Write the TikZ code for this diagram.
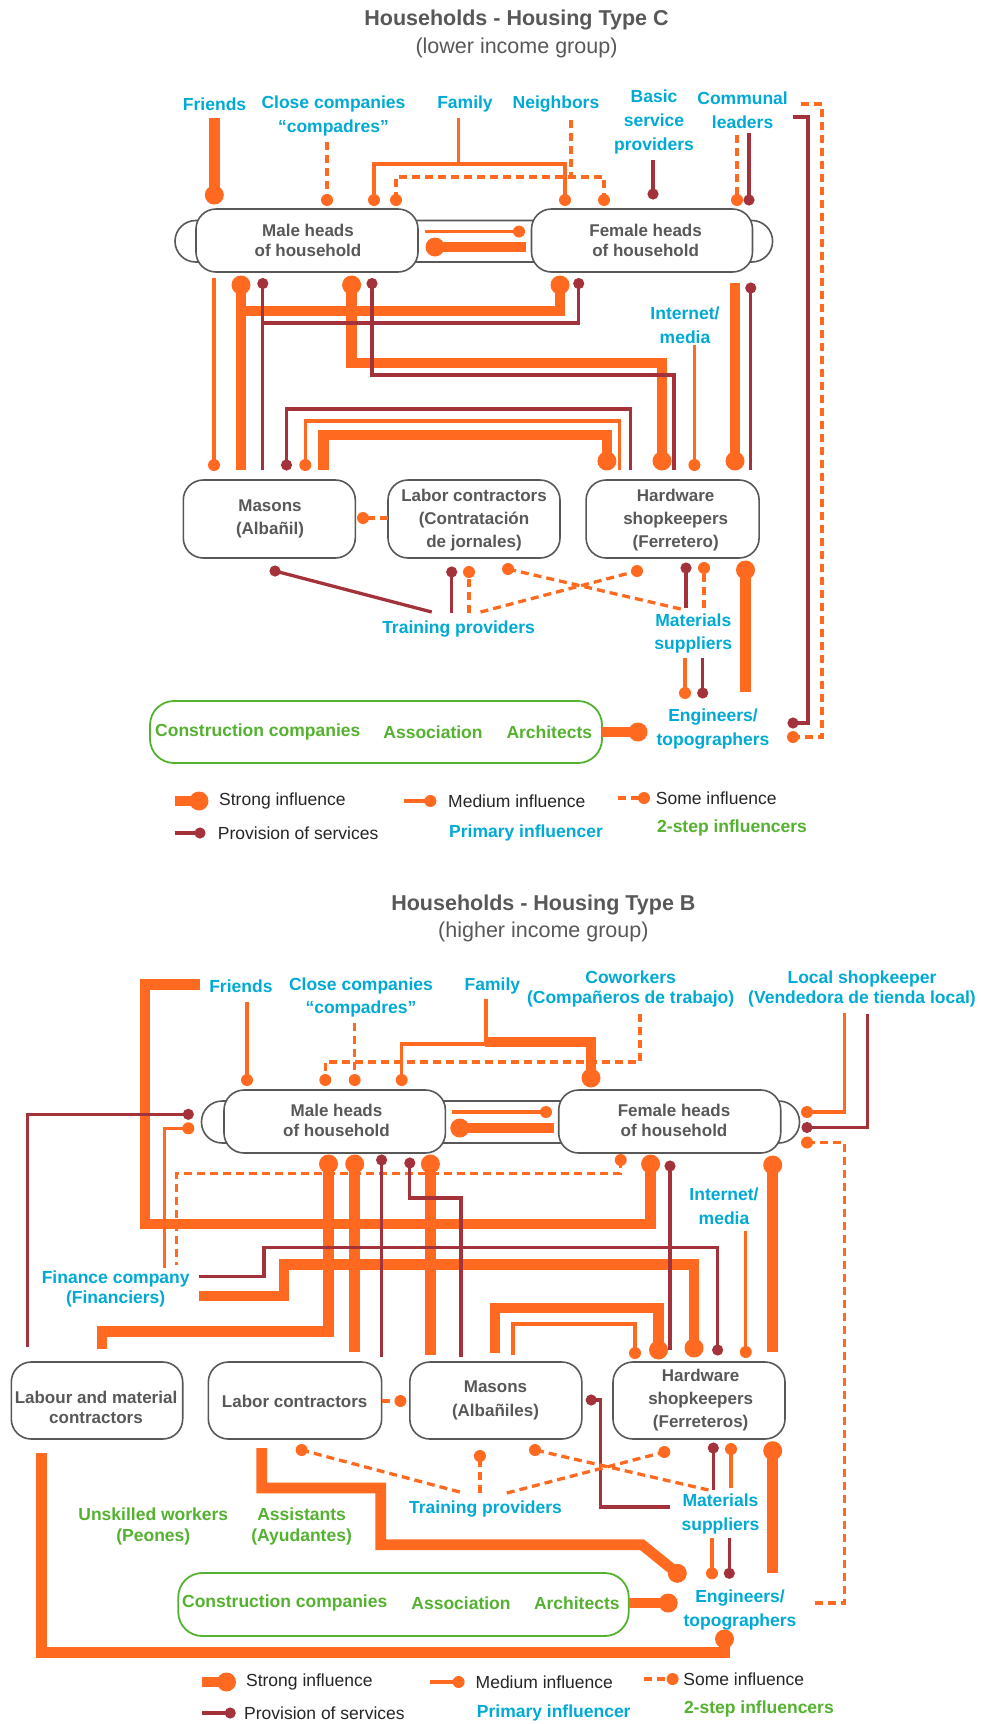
\documentclass[tikz,border=0pt]{standalone}
\usepackage{fontspec}
\setmainfont{Liberation Sans}
\definecolor{orC}{RGB}{255,106,32}
\definecolor{drC}{RGB}{163,50,58}
\definecolor{blC}{RGB}{0,170,212}
\definecolor{grC}{RGB}{84,178,48}
\definecolor{gyC}{RGB}{88,88,88}
\newcommand\BallS[1]{\fill[orC] #1 circle (9.5pt);}
\newcommand\BallM[1]{\fill[orC] #1 circle (6pt);}
\newcommand\BallD[1]{\fill[drC] #1 circle (5.6pt);}
\tikzset{
 strongln/.style={draw=orC, line width=10.7pt},
 mediumln/.style={draw=orC, line width=3.3pt},
 someln/.style={draw=orC, line width=3.3pt, dash pattern=on 8pt off 5pt},
 servln/.style={draw=drC, line width=3.3pt},
 lbl/.style={text=blC, font=\fontsize{17.5}{24}\selectfont\bfseries, align=center, inner sep=0pt},
 glbl/.style={lbl, text=grC},
 ntext/.style={text=gyC, font=\fontsize{17}{20}\selectfont\bfseries, align=center, inner sep=0pt},
 hbox/.style={draw=gyC, line width=1.6pt, fill=white, rounded corners=20pt, inner sep=0pt},
 gbox/.style={draw=grC, line width=1.8pt, rounded corners=24pt, inner sep=0pt},
 capsule/.style={draw=gyC, line width=1.6pt, fill=white, rounded corners=20.7pt},
 legt/.style={text=black!85, font=\fontsize{17.5}{20}\selectfont, anchor=west, inner sep=0pt},
 ttl/.style={text=gyC, font=\fontsize{21.5}{24}\selectfont\bfseries, inner sep=0pt},
 sttl/.style={text=gyC, font=\fontsize{21.5}{24}\selectfont, inner sep=0pt},
}
\begin{document}
\begin{tikzpicture}[x=1pt,y=-1pt]
\path[use as bounding box, fill=white] (0,0) rectangle (981,1724);

%%%%%%%%%%%%%%%%%%%% TOP : TYPE C %%%%%%%%%%%%%%%%%%%%
\node[ttl] (tC) at (516.5,20) {Households - Housing Type C};
\node[sttl] (sC) at (516.5,48) {(lower income group)};

\node[lbl] (frC) at (214.6,104) {Friends};
\node[lbl] (ccC) at (333.5,116) {Close companies\\“compadres”};
\node[lbl] (faC) at (465,104) {Family};
\node[lbl] (nbC) at (556,104) {Neighbors};
\node[lbl] (bsC) at (654,122) {Basic\\service\\providers};
\node[lbl] (clC) at (742.6,110) {Communal\\leaders};
\node[lbl] (imC) at (685,325) {Internet/\\media};
\node[lbl] (tpC) at (458.6,629) {Training providers};
\node[lbl] (msC) at (693.3,633) {Materials\\[-1pt]suppliers};
\node[lbl] (enC) at (713,729) {Engineers/\\topographers};

\draw[capsule] (175,220.5) rectangle (772.6,262);
\node[hbox, minimum width=222pt, minimum height=63pt] (maleC) at (307,240.5) {};
\node[hbox, minimum width=221pt, minimum height=63pt] (femC) at (642,240.5) {};
\node[ntext] (maleCt) at (308,240) {Male heads\\of household};
\node[ntext] (femCt) at (645.6,240) {Female heads\\of household};

\node[hbox, minimum width=172pt, minimum height=78pt] (masC) at (269.3,519) {};
\node[hbox, minimum width=172pt, minimum height=78pt] (lcC) at (474,519) {};
\node[hbox, minimum width=173pt, minimum height=78pt] (hwC) at (672.6,519) {};
\node[ntext] (masCt) at (270,519) {Masons\\[3pt](Albañil)};
\node[ntext] (lcCt) at (474,520.5) {Labor contractors\\[3pt](Contratación\\[3pt]de jornales)};
\node[ntext] (hwCt) at (675.7,520.5) {Hardware\\[3pt]shopkeepers\\[3pt](Ferretero)};

\node[gbox, minimum width=452pt, minimum height=62pt] (gbC) at (376,732) {};
\node[glbl] (g1C) at (257.8,732) {Construction companies};
\node[glbl] (g2C) at (433,732) {Association};
\node[glbl] (g3C) at (549.3,732) {Architects};

% top inputs
\draw[strongln] (214.3,118) -- (214.3,195); \BallS{(214.3,195)}
\draw[someln] (327,142) -- (327,200); \BallM{(327,200)}
\draw[mediumln] (458.6,118) -- (458.6,164);
\draw[mediumln] (374,200) -- (374,164) -- (565,164) -- (565,200);
\BallM{(374,200)} \BallM{(565,200)}
\draw[someln] (571,120) -- (571,177);
\draw[someln] (396,200) -- (396,177) -- (604,177) -- (604,200);
\BallM{(396,200)} \BallM{(604,200)}
\draw[servln] (653,160) -- (653,194); \BallD{(653,194)}
\draw[someln] (737,135) -- (737,200); \BallM{(737,200)}
\draw[servln] (749,133) -- (749,200); \BallD{(749,200)}
\draw[someln] (801,104) -- (822,104) -- (822,737) -- (793,737); \BallM{(793,737)}
\draw[servln] (793,117) -- (808,117) -- (808,723) -- (793,723); \BallD{(793,723)}

% between heads
\draw[mediumln] (425.4,231.5) -- (519,231.5); \BallM{(519,231.5)}
\draw[strongln] (525.5,247) -- (435,247); \BallS{(435,247)}

% heads to row
\draw[mediumln] (214,278) -- (214,465); \BallM{(214,465)}
\draw[strongln] (241,285) -- (241,470);
\draw[strongln] (560,285) -- (560,311) -- (241,311);
\BallS{(241,285)} \BallS{(560,285)}
\draw[strongln] (351.6,285) -- (351.6,363) -- (662,363) -- (662,461);
\BallS{(351.6,285)} \BallS{(662,461)}
\draw[strongln] (735,283) -- (735,461); \BallS{(735,461)}
\draw[mediumln] (694.4,345) -- (694.4,465); \BallM{(694.4,465)}
\draw[strongln] (323.5,470) -- (323.5,435) -- (606.9,435) -- (606.9,461); \BallS{(606.9,461)}
\draw[mediumln] (305.3,465) -- (305.3,421) -- (619.4,421) -- (619.4,470); \BallM{(305.3,465)}
\draw[servln] (286.5,465) -- (286.5,409) -- (630.6,409) -- (630.6,470); \BallD{(286.5,465)}
\draw[servln] (262.8,283.5) -- (262.8,470);
\draw[servln] (578.7,283.5) -- (578.7,323) -- (262.8,323);
\BallD{(262.8,283.5)} \BallD{(578.7,283.5)}
\draw[servln] (372,283.5) -- (372,375) -- (674,375) -- (674,470); \BallD{(372,283.5)}
\draw[servln] (750.8,288) -- (750.8,470); \BallD{(750.8,288)}

% row
\draw[someln] (388,518) -- (363,518); \BallM{(363,518)}
\draw[servln] (431.7,612) -- (275,571); \BallD{(275,571)}
\draw[servln] (451.7,613) -- (451.7,572); \BallD{(451.7,572)}
\draw[someln] (469,613) -- (469,572); \BallM{(469,572)}
\draw[someln] (680.7,609) -- (508,569); \BallM{(508,569)}
\draw[someln] (480.5,612) -- (637,571); \BallM{(637,571)}
\draw[servln] (686,608) -- (686,568); \BallD{(686,568)}
\draw[someln] (704,608) -- (704,568); \BallM{(704,568)}
\draw[strongln] (745.5,692) -- (745.5,570); \BallS{(745.5,570)}
\draw[mediumln] (685,658) -- (685,693); \BallM{(685,693)}
\draw[servln] (702.7,658) -- (702.7,693); \BallD{(702.7,693)}
\draw[strongln] (602,732) -- (638,732); \BallS{(638,732)}

% legend top
\draw[strongln] (175,801) -- (199,801); \BallS{(199,801)}
\draw[mediumln] (403.5,801) -- (430.4,801); \BallM{(430.4,801)}
\draw[someln] (618,798) -- (644,798); \BallM{(644,798)}
\draw[servln] (175,833) -- (200,833); \BallD{(200,833)}
\node[legt] (lg1C) at (219,801) {Strong influence};
\node[legt] (lg2C) at (448,801) {Medium influence};
\node[legt] (lg3C) at (655.7,798) {Some influence};
\node[legt] (lg4C) at (217.7,833) {Provision of services};
\node[lbl, anchor=west] (lg5C) at (449,833) {Primary influencer};
\node[glbl, anchor=west] (lg6C) at (657,828) {2-step influencers};

%%%%%%%%%%%%%%%%%%%% BOTTOM : TYPE B %%%%%%%%%%%%%%%%%%%%
\node[ttl] (tB) at (543.4,905) {Households - Housing Type B};
\node[sttl] (sB) at (543.4,932) {(higher income group)};

\node[lbl] (frB) at (240.9,986) {Friends};
\node[lbl] (ccB) at (361,997.5) {Close companies\\[-1pt]“compadres”};
\node[lbl] (faB) at (492.4,986) {Family};
\node[lbl] (cwB) at (630.6,989) {Coworkers\\[-4pt](Compañeros de trabajo)};
\node[lbl] (lsB) at (862,989) {Local shopkeeper\\[-4pt](Vendedora de tienda local)};
\node[lbl] (imB) at (724,1206) {Internet/\\media};
\node[lbl] (fiB) at (115.7,1289) {Finance company\\[-4pt](Financiers)};
\node[lbl] (tpB) at (485.5,1509) {Training providers};
\node[lbl] (msB) at (720.5,1513.5) {Materials\\suppliers};
\node[lbl] (enB) at (740,1610) {Engineers/\\topographers};
\node[glbl] (uwB) at (153.3,1526.5) {Unskilled workers\\[-3pt](Peones)};
\node[glbl] (asB) at (301.6,1526.5) {Assistants\\[-3pt](Ayudantes)};

\draw[capsule] (201.5,1101) rectangle (799.5,1143);
\node[hbox, minimum width=221.4pt, minimum height=63pt] (maleB) at (334.7,1121.5) {};
\node[hbox, minimum width=222pt, minimum height=63pt] (femB) at (669.7,1121.5) {};
\node[ntext] (maleBt) at (336.5,1120.5) {Male heads\\of household};
\node[ntext] (femBt) at (674,1120.5) {Female heads\\of household};

\node[hbox, minimum width=171.4pt, minimum height=77pt] (lmB) at (97,1400.5) {};
\node[hbox, minimum width=173.3pt, minimum height=77pt] (lcB) at (295,1400.5) {};
\node[hbox, minimum width=172pt, minimum height=77pt] (maB) at (495.8,1400.5) {};
\node[hbox, minimum width=172pt, minimum height=77pt] (hwB) at (699,1400.5) {};
\node[ntext] (lmBt) at (96,1407) {Labour and material\\contractors};
\node[ntext] (lcBt) at (294.7,1401) {Labor contractors};
\node[ntext] (maBt) at (495.5,1400) {Masons\\[4pt](Albañiles)};
\node[ntext] (hwBt) at (700.7,1400.5) {Hardware\\[3pt]shopkeepers\\[3pt](Ferreteros)};

\node[gbox, minimum width=450.5pt, minimum height=63pt] (gbB) at (403.5,1604.5) {};
\node[glbl] (g1B) at (284.7,1603) {Construction companies};
\node[glbl] (g2B) at (461,1603) {Association};
\node[glbl] (g3B) at (576.8,1603) {Architects};

% inputs
\draw[strongln] (200,984.5) -- (145,984.5) -- (145,1224) -- (650.6,1224) -- (650.6,1164); \BallS{(650.6,1164)}
\draw[mediumln] (247,1002) -- (247,1080); \BallM{(247,1080)}
\draw[someln] (354.7,1023) -- (354.7,1080); \BallM{(354.7,1080)}
\draw[someln] (640,1014) -- (640,1062) -- (325.3,1062) -- (325.3,1080); \BallM{(325.3,1080)}
\draw[mediumln] (486,999) -- (486,1044) -- (401.7,1044) -- (401.7,1080); \BallM{(401.7,1080)}
\draw[strongln] (485,1042) -- (591,1042) -- (591,1078); \BallS{(591,1078)}

% between heads
\draw[mediumln] (451.7,1112) -- (546,1112); \BallM{(546,1112)}
\draw[strongln] (553.7,1128) -- (459.8,1128); \BallS{(459.8,1128)}

% sides of heads
\draw[mediumln] (188.3,1128.3) -- (164.3,1128.3) -- (164.3,1268); \BallM{(188.3,1128.3)}
\draw[someln] (620.7,1160) -- (620.7,1173.5) -- (176.7,1173.5) -- (176.7,1265); \BallM{(620.7,1160)}
\draw[mediumln] (807,1112) -- (844.6,1112) -- (844.6,1013); \BallM{(807,1112)}
\draw[someln] (807,1142.5) -- (844.6,1142.5) -- (844.6,1603) -- (813.3,1603); \BallM{(807,1142.5)}

% heads to row
\draw[strongln] (328.5,1164) -- (328.5,1331.7) -- (102,1331.7) -- (102,1349); \BallS{(328.5,1164)}
\draw[strongln] (354.7,1164) -- (354.7,1352); \BallS{(354.7,1164)}
\draw[strongln] (430.4,1164) -- (430.4,1355); \BallS{(430.4,1164)}
\draw[strongln] (772.7,1165) -- (772.7,1352); \BallS{(772.7,1165)}
\draw[mediumln] (745.8,1231) -- (745.8,1352); \BallM{(745.8,1352)}
\draw[strongln] (199,1296) -- (284,1296) -- (284,1264.7) -- (694,1264.7) -- (694,1348); \BallS{(694,1348)}
\draw[strongln] (495,1353) -- (495,1308) -- (658.5,1308) -- (658.5,1350); \BallS{(658.5,1350)}
\draw[mediumln] (513,1355) -- (513,1324) -- (635,1324) -- (635,1353); \BallM{(635,1353)}

\draw[servln] (188.3,1114.3) -- (27.7,1114.3) -- (27.7,1347); \BallD{(188.3,1114.3)}
\draw[servln] (807,1127.5) -- (867.7,1127.5) -- (867.7,1014); \BallD{(807,1127.5)}
\draw[servln] (381.6,1160) -- (381.6,1357); \BallD{(381.6,1160)}
\draw[servln] (409.8,1163) -- (409.8,1198) -- (461,1198) -- (461,1357); \BallD{(409.8,1163)}
\draw[servln] (670,1166) -- (670,1350); \BallD{(670,1166)}
\draw[servln] (199,1276.7) -- (264,1276.7) -- (264,1247.3) -- (717.6,1247.3) -- (717.6,1350); \BallD{(717.6,1350)}

% row and below
\draw[someln] (381.6,1401) -- (400.4,1401); \BallM{(400.4,1401)}
\draw[servln] (591.2,1400) -- (600.6,1400) -- (600.6,1507) -- (670,1507); \BallD{(591.2,1400)}
\draw[strongln] (261.8,1448) -- (261.8,1488) -- (380.7,1488) -- (380.7,1544.7) -- (642,1544.7) -- (677.3,1573.3); \BallS{(677.3,1573.3)}
\draw[strongln] (41.6,1453) -- (41.6,1652.5) -- (724.5,1652.5) -- (724.5,1639); \BallS{(724.5,1639)}
\draw[someln] (459.8,1492) -- (301.6,1450); \BallM{(301.6,1450)}
\draw[someln] (708.5,1490) -- (535,1450); \BallM{(535,1450)}
\draw[someln] (479.9,1493) -- (479.9,1456); \BallM{(479.9,1456)}
\draw[someln] (506.8,1493) -- (664.3,1452); \BallM{(664.3,1452)}
\draw[servln] (713.3,1490) -- (713.3,1448); \BallD{(713.3,1448)}
\draw[mediumln] (731,1488) -- (731,1449); \BallM{(731,1449)}
\draw[strongln] (772.7,1450.7) -- (772.7,1572.7); \BallS{(772.7,1450.7)}
\draw[mediumln] (712,1538) -- (712,1573.3); \BallM{(712,1573.3)}
\draw[servln] (729.3,1538) -- (729.3,1573.3); \BallD{(729.3,1573.3)}
\draw[strongln] (628.8,1603) -- (668.2,1603); \BallS{(668.2,1603)}

% legend bottom
\draw[strongln] (201.5,1682) -- (226.5,1682); \BallS{(226.5,1682)}
\draw[mediumln] (430.4,1682) -- (458.6,1682); \BallM{(458.6,1682)}
\draw[someln] (644.4,1679) -- (672.6,1679); \BallM{(672.6,1679)}
\draw[servln] (201.5,1713) -- (230.2,1713); \BallD{(230.2,1713)}
\node[legt] (lg1B) at (245.9,1682) {Strong influence};
\node[legt] (lg2B) at (475.5,1682) {Medium influence};
\node[legt] (lg3B) at (683.2,1679) {Some influence};
\node[legt] (lg4B) at (244,1713) {Provision of services};
\node[lbl, anchor=west] (lg5B) at (476.7,1713) {Primary influencer};
\node[glbl, anchor=west] (lg6B) at (683.8,1709) {2-step influencers};
\end{tikzpicture}
\end{document}
